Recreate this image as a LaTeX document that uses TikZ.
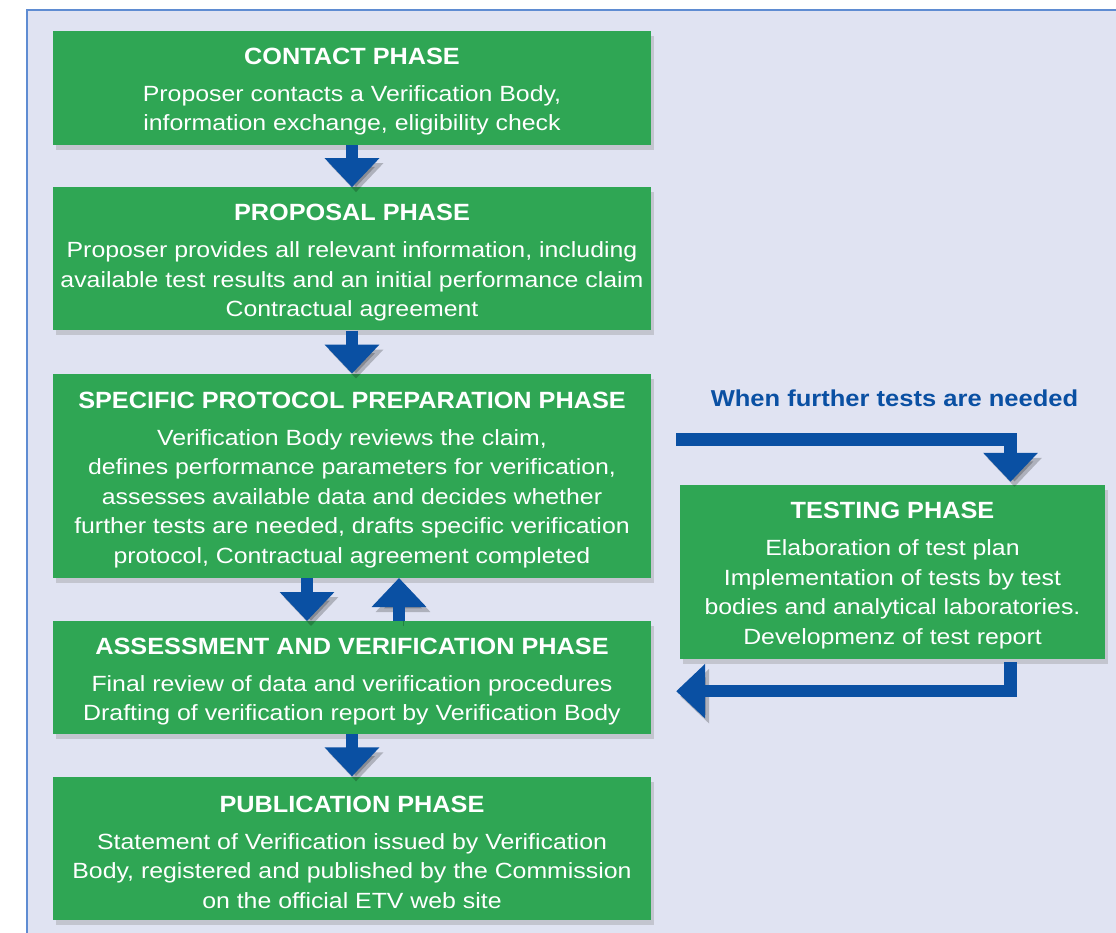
\documentclass[tikz,border=0pt]{standalone}
\usepackage{fontspec}
\setmainfont[FakeStretch=1.13]{Liberation Sans}
\newfontfamily\titlefont[FakeStretch=1.075]{Liberation Sans}
\newfontfamily\notefont[FakeStretch=1.11]{Liberation Sans}
\usetikzlibrary{positioning,shadows,arrows.meta}
\definecolor{panelbg}{RGB}{224,227,242}
\definecolor{panelline}{RGB}{95,140,210}
\definecolor{phasegreen}{RGB}{47,166,84}
\definecolor{flowblue}{RGB}{10,80,163}
\newcommand{\phasetitle}[1]{{\titlefont\fontsize{23.5}{29.5}\selectfont\bfseries\rule{0pt}{24pt}#1}\\[7.5pt]}
\tikzstyle{phase}=[rectangle,fill=phasegreen,text=white,align=center,inner xsep=0pt,minimum width=598pt,font=\fontsize{22}{29.5}\selectfont,drop shadow={shadow xshift=3pt,shadow yshift=-5pt,opacity=0.3}]
\tikzstyle{flow}=[draw=flowblue,line width=12.5pt,-{Triangle[width=53pt,length=29pt]},preaction={draw=black,opacity=0.22,transform canvas={xshift=4pt,yshift=-5pt}}]

\begin{document}
\begin{tikzpicture}[x=1pt,y=-1pt]
	\useasboundingbox (0,0) rectangle (1116,933);
	% background panel
	\fill[panelbg] (27,10) rectangle (1130,945);
	\draw[panelline,line width=1.2pt] (27,945) -- (27,10) -- (1130,10);
	% main column
	\node[phase,minimum height=114pt] (contact) at (352,88) {\phasetitle{CONTACT PHASE}Proposer contacts a Verification Body,\\information exchange, eligibility check};
	\node[phase,minimum height=143pt,below=42pt of contact] (proposal) {\phasetitle{PROPOSAL PHASE}Proposer provides all relevant information, including\\available test results and an initial performance claim\\Contractual agreement};
	\node[phase,minimum height=204pt,below=43pt of proposal] (specific) {\phasetitle{SPECIFIC PROTOCOL PREPARATION PHASE}Verification Body reviews the claim,\\defines performance parameters for verification,\\assesses available data and decides whether\\further tests are needed, drafts specific verification\\protocol, Contractual agreement completed};
	\node[phase,minimum height=113pt,below=43pt of specific] (assessment) {\phasetitle{ASSESSMENT AND VERIFICATION PHASE}Final review of data and verification procedures\\Drafting of verification report by Verification Body};
	\node[phase,minimum height=143pt,below=42pt of assessment] (publication) {\phasetitle{PUBLICATION PHASE}Statement of Verification issued by Verification\\Body, registered and published by the Commission\\on the official ETV web site};
	% side branch
	\node[phase,minimum width=425pt,minimum height=174pt] (testing) at (892.5,572) {\phasetitle{TESTING PHASE}Elaboration of test plan\\Implementation of tests by test\\bodies and analytical laboratories.\\Developmenz of test report};
	\node[text=flowblue,font=\notefont\fontsize{23}{28}\selectfont\bfseries] (needed) at (894.5,398) {When further tests are needed};
	% arrows
	\draw[flow] (contact.south) -- (proposal.north);
	\draw[flow] (proposal.south) -- (specific.north);
	\draw[flow] ([xshift=-45pt]specific.south) -- ([xshift=-45pt]assessment.north);
	\draw[flow] ([xshift=47pt]assessment.north) -- ([xshift=47pt]specific.south);
	\draw[flow] (assessment.south) -- (publication.north);
	\coordinate (outstart) at ([xshift=25pt,yshift=36.5pt]specific.east);
	\draw[flow,shorten >=3pt] (outstart) -| ([xshift=118pt]testing.north);
	\coordinate (backtip) at ([xshift=25pt,yshift=-13.5pt]assessment.east);
	\draw[flow] ([xshift=118pt,yshift=-3pt]testing.south) |- (backtip);
\end{tikzpicture}
\end{document}
